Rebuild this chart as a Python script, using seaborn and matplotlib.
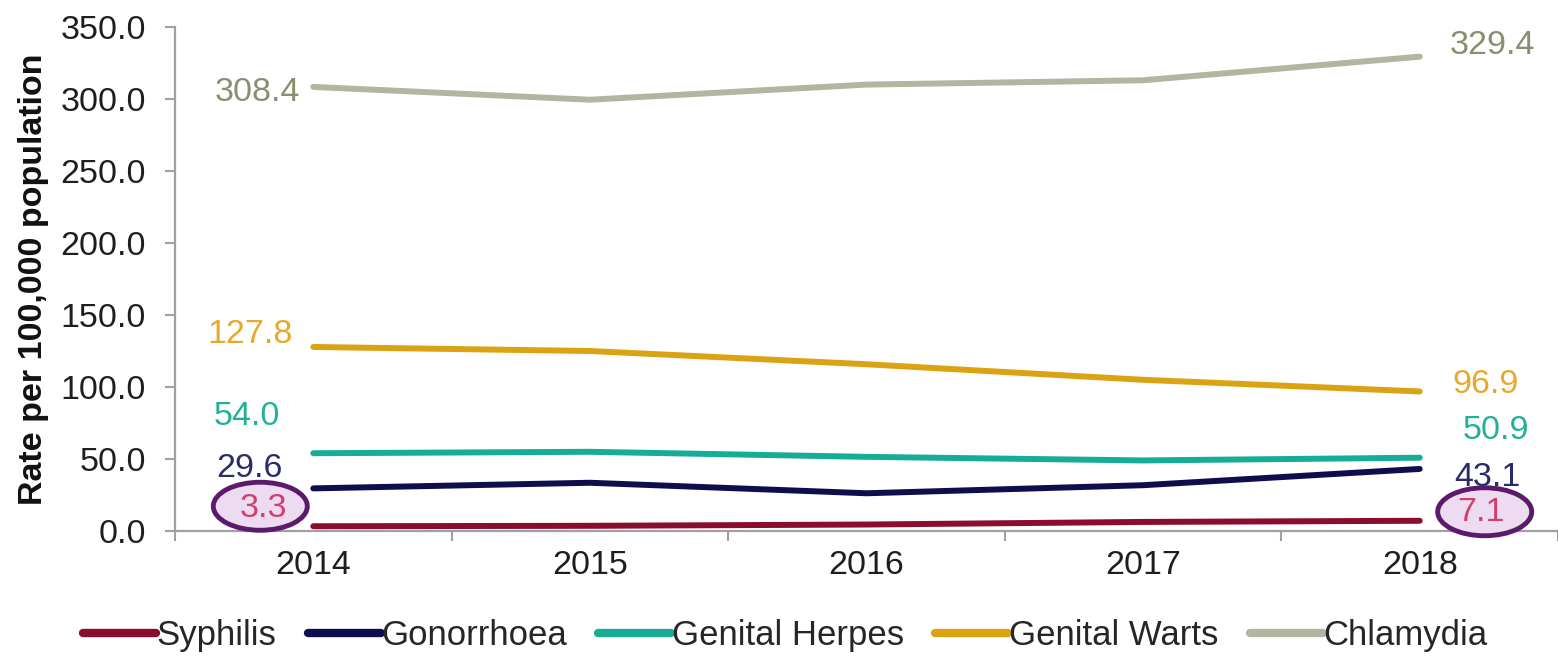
import pandas as pd
import numpy as np
import matplotlib
matplotlib.use("Agg")
import matplotlib.pyplot as plt
import seaborn as sns
from matplotlib.patches import Ellipse
from matplotlib.transforms import ScaledTranslation

# data
years = [2014, 2015, 2016, 2017, 2018]
syphilis = [3.3, 3.6, 4.5, 6.3, 7.1]
gonorrhoea = [29.6, 33.5, 26.2, 31.8, 43.1]
herpes = [54.0, 55.0, 51.5, 49.0, 50.9]
warts = [127.8, 125.0, 115.8, 105.0, 96.9]
chlamydia = [308.4, 299.5, 310.0, 313.0, 329.4]

names = ["Syphilis", "Gonorrhoea", "Genital Herpes", "Genital Warts", "Chlamydia"]
series = [syphilis, gonorrhoea, herpes, warts, chlamydia]
line_colors = ["#8b0d2e", "#0e0e4f", "#17ad94", "#dba312", "#b3b5a0"]
label_colors = ["#d0406a", "#2b2b6b", "#22b09a", "#e8a82a", "#8c8c6e"]

# label offsets in pixels (dx, dy) for first / last value
left_off = [(-26, 18), (-31, 20), (-33, 37), (-21, 12), (-13, -6)]
right_off = [(38, 8), (35, -9), (43, 27), (33, 7), (30, 11)]

df = pd.DataFrame({
    "Year": years * len(names),
    "Rate": sum(series, []),
    "Disease": [n for n in names for _ in years],
})

sns.set_theme(style="white")
plt.rcParams["font.family"] = ["Liberation Sans", "DejaVu Sans"]

fig = plt.figure(figsize=(15.58, 6.59), dpi=100)
ax = fig.add_axes([175 / 1558, 1 - 531 / 659, 1 - 175 / 1558, (531 - 27) / 659])

sns.lineplot(data=df, x="Year", y="Rate", hue="Disease", hue_order=names,
             palette=line_colors, linewidth=4.3, ax=ax)

ax.set_xlim(2013.5, 2018.5)
ax.set_ylim(0, 350)
ax.set_yticks(np.arange(0, 351, 50))
ax.set_yticklabels([f"{v:.1f}" for v in np.arange(0, 351, 50)])
ax.set_xticks(years)
ax.set_xticks(np.arange(2013.5, 2018.6, 1), minor=True)
ax.set_xlabel("")
ax.set_ylabel("Rate per 100,000 population", fontsize=24.5, fontweight="bold",
              color="#111111", labelpad=8)

for s in ["top", "right"]:
    ax.spines[s].set_visible(False)
for s in ["left", "bottom"]:
    ax.spines[s].set_color("#a0a0a0")
    ax.spines[s].set_linewidth(1.6)

ax.tick_params(axis="y", which="major", length=7, width=1.5, color="#a0a0a0",
               left=True, pad=14, labelsize=24.5, labelcolor="#1e1e1e")
ax.tick_params(axis="x", which="major", length=0, pad=14, labelsize=24.5,
               labelcolor="#1e1e1e")
ax.tick_params(axis="x", which="minor", length=7, width=1.5, color="#a0a0a0",
               bottom=True)

# value labels
for vals, col, lo, ro in zip(series, label_colors, left_off, right_off):
    ax.annotate(f"{vals[0]:.1f}", (years[0], vals[0]),
                xytext=(lo[0] * 0.72, lo[1] * 0.72), textcoords="offset points",
                ha="right", va="center", fontsize=24.5, color=col, zorder=6)
    ax.annotate(f"{vals[-1]:.1f}", (years[-1], vals[-1]),
                xytext=(ro[0] * 0.72, ro[1] * 0.72), textcoords="offset points",
                ha="left", va="center", fontsize=24.5, color=col, zorder=6)

# highlight ellipses around syphilis values
for x, y, dx, dy in [(years[0], syphilis[0], -0.53, 0.20),
                     (years[-1], syphilis[-1], 0.65, 0.09)]:
    tr = fig.dpi_scale_trans + ScaledTranslation(x, y, ax.transData)
    e = Ellipse((dx, dy), 0.94, 0.48, transform=tr, facecolor="#eddcf1",
                edgecolor="#5c1a6b", linewidth=3.5, zorder=5, clip_on=False)
    ax.add_patch(e)

handles, labels = ax.get_legend_handles_labels()
leg = ax.legend(handles, labels, loc="center", bbox_to_anchor=(0.504, 0.035),
                bbox_transform=fig.transFigure, ncol=5, frameon=False,
                fontsize=25, handlelength=2.1, handletextpad=0.02,
                columnspacing=0.9)
for line in leg.get_lines():
    line.set_linewidth(6)

fig.savefig("out.png", dpi=100)
